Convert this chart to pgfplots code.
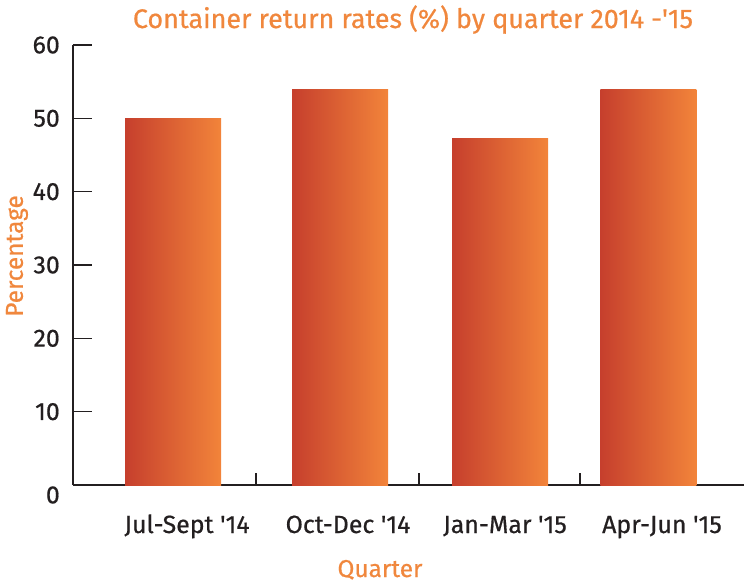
\documentclass[border=0pt]{standalone}
\usepackage{fontspec}
\setmainfont{Fira Sans}[FakeBold=0.6]
\usepackage{pgfplots}
\pgfplotsset{compat=1.18}
\definecolor{barL}{HTML}{C63F2D}
\definecolor{barR}{HTML}{F2843A}
\definecolor{ttl}{HTML}{F0873D}
\definecolor{ink}{HTML}{231F20}
\begin{document}
\begin{tikzpicture}
\begin{axis}[
    scale only axis,
    width=671bp, height=440bp,
    xmin=-0.599, xmax=3.419,
    ymin=0, ymax=60,
    axis x line=bottom, axis y line=left,
    axis line style={-, ink, line width=1.3bp},
    tick align=inside,
    major tick length=19bp,
    tick style={ink, line width=1.3bp},
    ytick={10,20,...,60},
    extra y ticks={0},
    extra y tick style={ytick style={draw=none}, yticklabel style={yshift=-10bp}},
    xtick={0.084,1.048,1.988,2.928},
    xticklabels={Jul-Sept \textquotesingle14, Oct-Dec \textquotesingle14, Jan-Mar \textquotesingle15, Apr-Jun \textquotesingle15},
    xtick style={draw=none},
    extra x ticks={0.497,1.473,2.437},
    extra x tick labels={},
    extra x tick style={xtick style={draw=ink}, tick align=inside, major tick length=12bp},
    ticklabel style={font=\fontsize{25}{28}\selectfont, text=ink},
    xticklabel style={anchor=base, yshift=-48bp},
    yticklabel style={anchor=east, inner sep=0pt, xshift=-13bp},
    /pgf/number format/assume math mode=true,
    title={Container return rates (\%) by quarter 2014 -\textquotesingle15},
    title style={at={(axis description cs:0.5,1)}, anchor=base, xshift=4.5bp, yshift=11bp,
        font=\fontsize{27}{30}\selectfont, text=ttl},
    xlabel={Quarter},
    xlabel style={at={(axis description cs:0.5,0)}, anchor=base, xshift=-28.5bp, yshift=-92bp,
        font=\fontsize{24.5}{28}\selectfont, text=ttl},
    ylabel={Percentage},
    ylabel style={at={(axis description cs:-0.0835,0.5205)}, anchor=center,
        font=\fontsize{24.5}{28}\selectfont, text=ttl},
    clip=false,
]
\addplot[ybar, bar width=0.575, bar shift=0pt, draw=none, left color=barL, right color=barR] coordinates {(0,50)};
\addplot[ybar, bar width=0.575, bar shift=0pt, draw=none, left color=barL, right color=barR] coordinates {(1.0,54)};
\addplot[ybar, bar width=0.575, bar shift=0pt, draw=none, left color=barL, right color=barR] coordinates {(1.958,47.3)};
\addplot[ybar, bar width=0.575, bar shift=0pt, draw=none, left color=barL, right color=barR] coordinates {(2.847,54)};
\end{axis}
\pgfresetboundingbox
\path (current axis.south west) ++(-73bp,-99bp) rectangle ++(744bp,584bp);
\end{tikzpicture}
\end{document}
